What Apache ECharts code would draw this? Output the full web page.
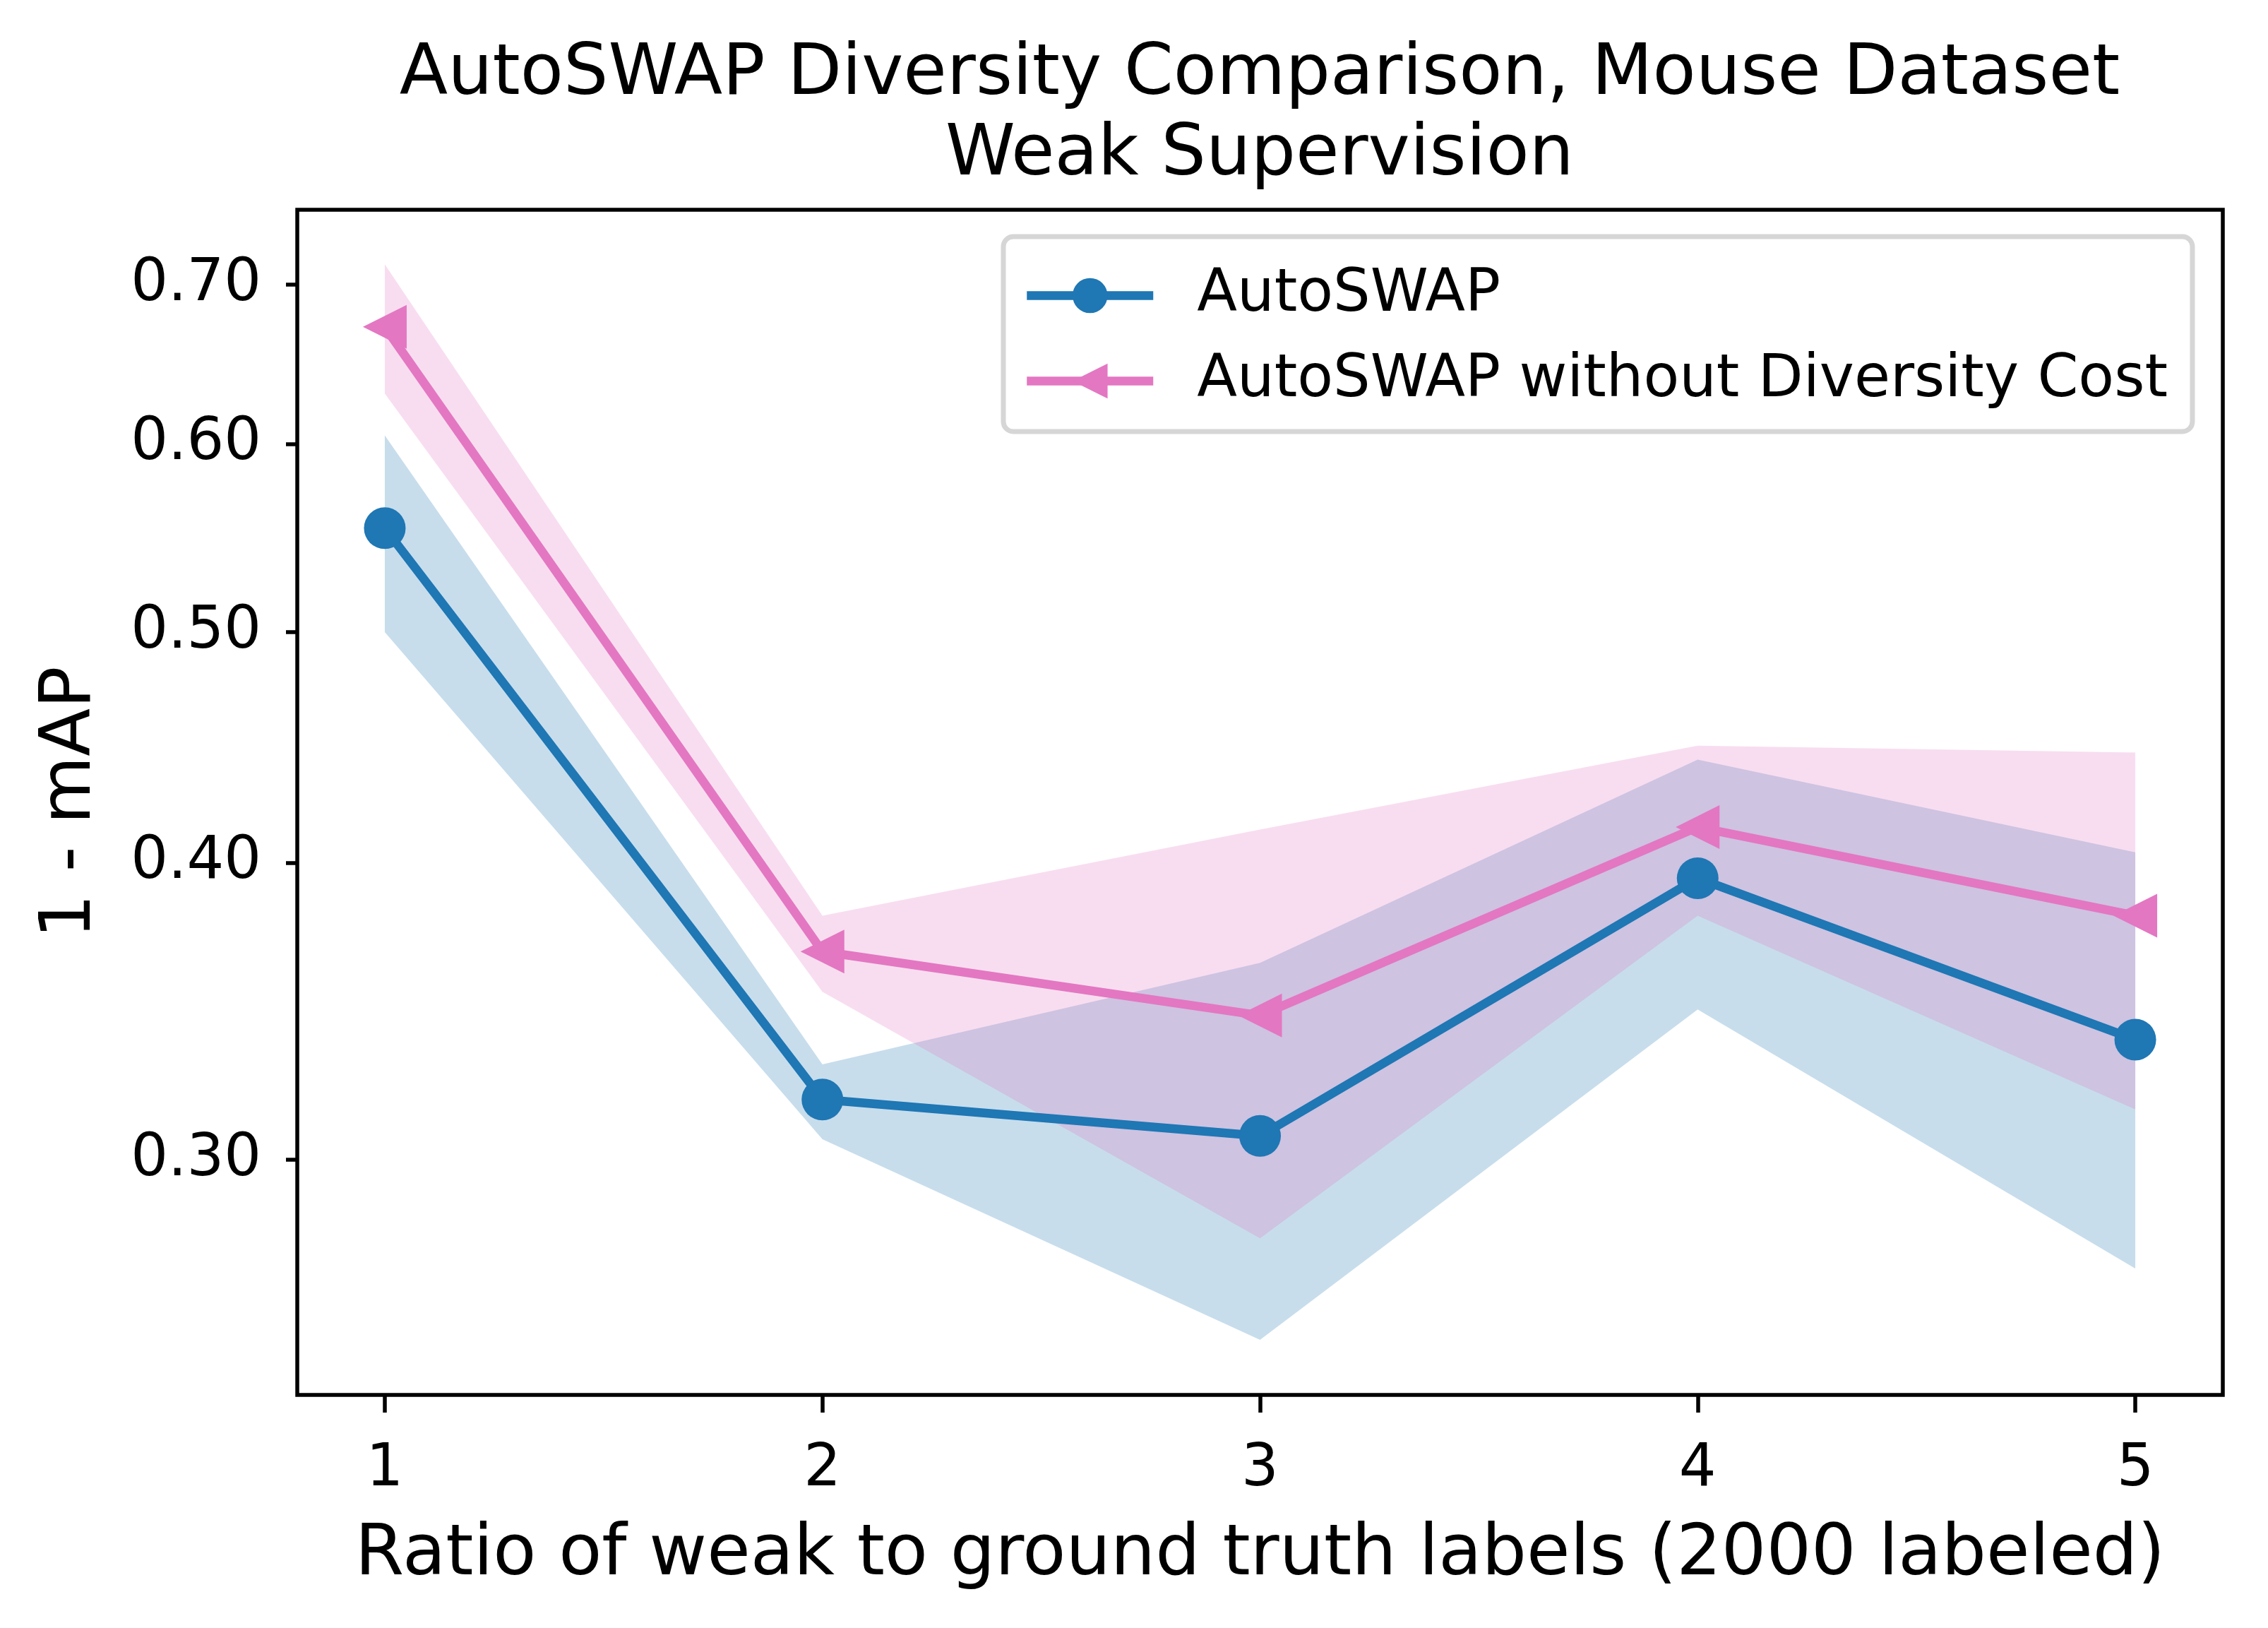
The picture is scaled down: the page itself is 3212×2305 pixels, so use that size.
<!DOCTYPE html>
<html>
<head>
<meta charset="UTF-8" />
<title>AutoSWAP Diversity Comparison</title>
<script src="https://cdn.jsdelivr.net/npm/echarts@6/dist/echarts.min.js"></script>
<style>
  html, body { margin: 0; padding: 0; background: #fff; }
  #chart { width: 3212px; height: 2305px; }
</style>
</head>
<body>
<div id="chart"></div>
<script>
// values (log-scaled y axis)
const ratios = [1, 2, 3, 4, 5];
const autoswapMean = [0.553, 0.318, 0.307, 0.394, 0.337];
const autoswapLower = [0.500, 0.306, 0.252, 0.347, 0.270];
const autoswapUpper = [0.605, 0.329, 0.363, 0.442, 0.404];
const noDivMean = [0.672, 0.367, 0.345, 0.414, 0.380];
const noDivLower = [0.630, 0.353, 0.278, 0.380, 0.315];
const noDivUpper = [0.714, 0.380, 0.413, 0.448, 0.445];
const yTicks = [0.3, 0.4, 0.5, 0.6, 0.7];

const BLUE = '#1f77b4';
const PINK = '#e377c2';
const FONT = 'DejaVu Sans';
const LINE_W = 12.5;

// shaded band between lower and upper, drawn once as a polygon
function bandSeries(name, lower, upper, fill, z) {
  return {
    name,
    type: 'custom',
    silent: true,
    z,
    data: ratios.map((x, i) => [x, lower[i], upper[i]]),
    encode: { x: 0, y: [1, 2] },
    renderItem(params, api) {
      if (params.dataIndex !== 0) return null;
      const pts = [];
      ratios.forEach((x, i) => pts.push(api.coord([x, upper[i]])));
      for (let i = ratios.length - 1; i >= 0; i--) pts.push(api.coord([ratios[i], lower[i]]));
      return { type: 'polygon', shape: { points: pts }, style: { fill, opacity: 0.25 } };
    },
  };
}

const chart = echarts.init(document.getElementById('chart'), null, { renderer: 'canvas' });

chart.setOption({
  animation: false,
  textStyle: { fontFamily: FONT, color: '#000' },
  title: {
    text: 'AutoSWAP Diversity Comparison, Mouse Dataset\nWeak Supervision',
    left: 1784,
    top: 50,
    textAlign: 'center',
    padding: 0,
    textStyle: { fontFamily: FONT, fontSize: 100, fontWeight: 'normal', color: '#000', lineHeight: 114 },
  },
  legend: {
    orient: 'vertical',
    left: 1421,
    top: 335,
    data: ['AutoSWAP', 'AutoSWAP without Diversity Cost'],
    itemWidth: 179,
    itemHeight: 62,
    itemGap: 38,
    padding: [42, 35, 30, 27],
    backgroundColor: '#fff',
    borderColor: '#d6d6d6',
    borderWidth: 7,
    borderRadius: 14,
    lineStyle: { width: LINE_W },
    textStyle: { fontFamily: FONT, fontSize: 83, color: '#000', lineHeight: 62, padding: [0, 0, 0, 57] },
  },
  grid: {
    left: 421,
    right: 64,
    top: 297,
    bottom: 330,
    show: true,
    borderColor: '#000',
    borderWidth: 5.5,
    backgroundColor: 'transparent',
    z: 10,
  },
  xAxis: {
    type: 'value',
    min: 0.8,
    max: 5.2,
    name: 'Ratio of weak to ground truth labels (2000 labeled)',
    nameLocation: 'middle',
    nameGap: 178,
    nameTextStyle: { fontFamily: FONT, fontSize: 100, color: '#000' },
    axisLine: { show: false },
    splitLine: { show: false },
    axisTick: { show: true, length: 25, lineStyle: { color: '#000', width: 5.5 }, customValues: ratios },
    axisLabel: { fontFamily: FONT, fontSize: 83, color: '#000', margin: 65, customValues: ratios },
  },
  yAxis: {
    type: 'log',
    logBase: 10,
    min: 0.2389,
    max: 0.7527,
    name: '1 - mAP',
    nameLocation: 'middle',
    nameRotate: 90,
    nameGap: 270,
    nameTextStyle: { fontFamily: FONT, fontSize: 99, color: '#000' },
    axisLine: { show: false },
    splitLine: { show: false },
    minorTick: { show: false },
    axisTick: { show: true, length: 16, lineStyle: { color: '#000', width: 5.5 }, customValues: yTicks },
    axisLabel: {
      fontFamily: FONT,
      fontSize: 83,
      color: '#000',
      margin: 51,
      customValues: yTicks,
      formatter: (v) => Number(v).toFixed(2),
    },
  },
  series: [
    bandSeries('AutoSWAP band', autoswapLower, autoswapUpper, BLUE, 1),
    bandSeries('No diversity band', noDivLower, noDivUpper, PINK, 2),
    {
      name: 'AutoSWAP',
      type: 'line',
      z: 3,
      data: ratios.map((x, i) => [x, autoswapMean[i]]),
      symbol: 'circle',
      symbolSize: 59,
      showAllSymbol: true,
      color: BLUE,
      lineStyle: { color: BLUE, width: LINE_W },
      itemStyle: { color: BLUE },
    },
    {
      name: 'AutoSWAP without Diversity Cost',
      type: 'line',
      z: 4,
      data: ratios.map((x, i) => [x, noDivMean[i]]),
      symbol: 'triangle',
      symbolRotate: 90,
      symbolSize: 62,
      showAllSymbol: true,
      color: PINK,
      lineStyle: { color: PINK, width: LINE_W },
      itemStyle: { color: PINK },
    },
  ],
});
</script>
</body>
</html>
